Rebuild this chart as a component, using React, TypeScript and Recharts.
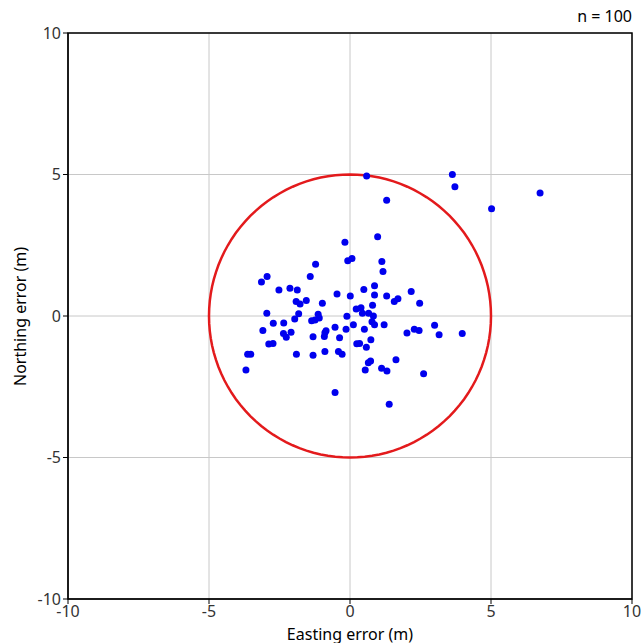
import { ScatterChart, Scatter, XAxis, YAxis, CartesianGrid, ReferenceArea } from "recharts";

const eastErr = [0.59, 3.63, 3.72, 5.02, 6.74, 1.3, 0.98, -0.18, -0.08, 0.07, 1.13, 1.17, -1.22, -1.41, -2.94, -3.14, -2.52, -2.13, -1.87, -0.46, 0.01, 0.49, 0.87, 0.87, 1.3, 1.57, 1.7, 2.17, 2.47, -1.91, -1.77, -1.55, -0.98, 0.22, 0.39, 0.44, 0.8, 0.66, 0.83, -2.95, -1.96, -1.82, -1.13, -1.09, -1.36, -1.24, -0.11, 0.78, 0.87, 1.21, 0.12, -2.72, -2.35, -3.09, -2.36, -2.26, -2.09, -1.31, -0.89, -0.85, -0.91, -0.53, -0.14, -0.37, 0.51, 0.74, 0.24, 0.34, 0.58, -2.88, -2.73, 2.02, 2.28, 2.45, 3.0, 3.16, 3.98, -3.63, -3.52, -1.9, -1.31, -0.89, -0.41, -0.28, 0.65, 0.73, 1.63, -3.69, 0.54, 1.12, 1.31, 2.61, -0.53, 1.39];
const northErr = [4.95, 5.0, 4.57, 3.79, 4.35, 4.09, 2.8, 2.61, 1.95, 2.03, 1.93, 1.57, 1.83, 1.4, 1.4, 1.2, 0.92, 0.98, 0.92, 0.78, 0.71, 0.94, 1.07, 0.74, 0.71, 0.51, 0.61, 0.87, 0.45, 0.51, 0.42, 0.55, 0.45, 0.25, 0.29, 0.1, 0.38, 0.1, 0.0, 0.1, -0.11, 0.08, 0.06, -0.07, -0.17, -0.14, -0.01, -0.2, -0.31, -0.31, -0.31, -0.26, -0.25, -0.51, -0.62, -0.75, -0.57, -0.73, -0.59, -0.52, -0.72, -0.4, -0.47, -0.77, -0.47, -0.84, -0.98, -0.97, -1.1, -0.99, -0.97, -0.6, -0.47, -0.51, -0.33, -0.66, -0.62, -1.35, -1.35, -1.35, -1.39, -1.25, -1.25, -1.35, -1.65, -1.59, -1.55, -1.91, -1.91, -1.85, -1.94, -2.04, -2.7, -3.12];
const ticks = [-10, -5, 0, 5, 10];
const circleRadius = 5;

const points = eastErr.map((x, i) => ({ x, y: northErr[i] }));
const circle = Array.from({ length: 121 }, (_, i) => {
  const a = (i / 120) * 2 * Math.PI;
  return { x: circleRadius * Math.cos(a), y: circleRadius * Math.sin(a) };
});

const font = "'Noto Sans', sans-serif";
const tick = { fill: "#333", fontSize: 16, fontFamily: font };

export default function App() {
  return (
    <div style={{ position: "absolute", left: 0, top: 0, width: 641, height: 643, background: "#fff" }}>
      <div style={{ position: "absolute", right: 9, top: 5, fontFamily: font, fontSize: 16, color: "#000" }}>n = 100</div>
      <ScatterChart width={641} height={643} margin={{ top: 33, right: 9, bottom: 0, left: 18 }}>
        <CartesianGrid stroke="#c8c8c8" />
        <XAxis
          type="number"
          dataKey="x"
          domain={[-10, 10]}
          ticks={ticks}
          tick={tick}
          stroke="#000"
          tickSize={5}
          height={44}
          label={{ value: "Easting error (m)", position: "insideBottom", offset: 3, fill: "#000", fontSize: 16, fontFamily: font }}
        />
        <YAxis
          type="number"
          dataKey="y"
          domain={[-10, 10]}
          ticks={ticks}
          tick={tick}
          stroke="#000"
          tickSize={5}
          width={50}
          label={{ value: "Northing error (m)", angle: -90, position: "insideLeft", offset: 2, dy: 70, fill: "#000", fontSize: 16, fontFamily: font }}
        />
        <ReferenceArea x1={-10} x2={10} y1={-10} y2={10} fill="none" stroke="#000" strokeWidth={1.5} />
        <Scatter data={circle} line={{ stroke: "#e31a1c", strokeWidth: 2.5 }} shape={() => null} isAnimationActive={false} />
        <Scatter data={points} fill="#0000ee" shape={(p: any) => <circle cx={p.cx} cy={p.cy} r={3.5} fill="#0000ee" />} isAnimationActive={false} />
      </ScatterChart>
    </div>
  );
}
